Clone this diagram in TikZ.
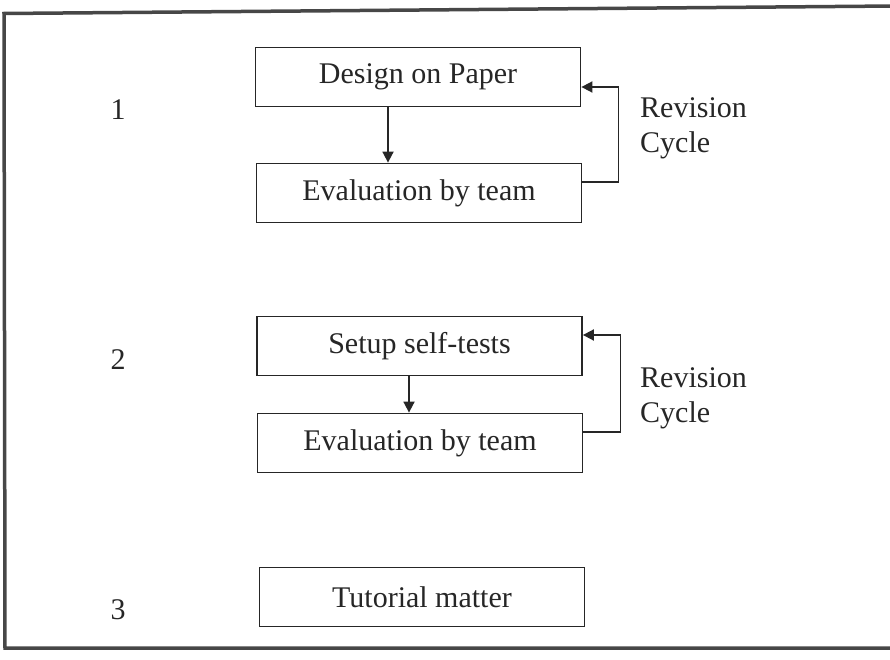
\documentclass[tikz,border=0pt]{standalone}
\usepackage{fontspec}
\setmainfont{Liberation Serif}
\usetikzlibrary{arrows.meta}
\begin{document}
\begin{tikzpicture}[x=1pt,y=-1pt,
  every node/.style={font=\fontsize{30}{36}\selectfont, text=black!85},
  stepbox/.style={draw=black!85, line width=1.8pt, minimum width=325pt, minimum height=59pt, inner sep=0pt},
  arr/.style={draw=black!85, line width=1.8pt, -{Triangle[length=11pt,width=11pt]}},
  lbl/.style={anchor=west, inner sep=0pt}
]
\useasboundingbox (0,0) rectangle (890,660);
\clip (0,0) rectangle (890,660);
% outer frame, open on the right
\draw[line width=3.5pt, black!72] (895,6) -- (4,13.5) -- (5,648) -- (895,648);

% step numbers
\node (n1) at (118,110) {1};
\node (n2) at (118,360) {2};
\node (n3) at (118,610) {3};

% stage 1
\node[stepbox] (b1) at (418,77) {Design on Paper};
\node[stepbox] (b2) at (419,193) {Evaluation by team};
\coordinate (d1) at (388,0);
\draw[arr] (b1.south -| d1) -- (b2.north -| d1);
\draw[arr] ([yshift=11pt]b2.east) -- ++(36,0) |- ([yshift=-10pt]b1.east);
\node[lbl] (r1) at (640,108) {Revision};
\node[lbl] (c1) at (640,145) {Cycle};

% stage 2
\node[stepbox] (b3) at (419.5,346) {Setup self-tests};
\node[stepbox] (b4) at (420,443) {Evaluation by team};
\coordinate (d2) at (409,0);
\draw[arr] (b3.south -| d2) -- (b4.north -| d2);
\draw[arr] ([yshift=11pt]b4.east) -- ++(37,0) |- ([yshift=11pt]b3.east);
\node[lbl] (r2) at (640,378) {Revision};
\node[lbl] (c2) at (640,415) {Cycle};

% stage 3
\node[stepbox] (b5) at (422,597) {Tutorial matter};
\end{tikzpicture}
\end{document}
